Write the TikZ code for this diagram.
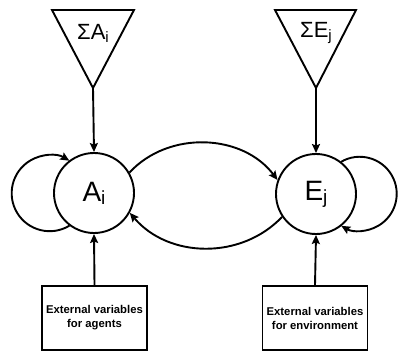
\documentclass[tikz,border=0pt]{standalone}
\usepackage{fontspec}
\setmainfont{Liberation Sans}
\usetikzlibrary{arrows.meta}
\begin{document}
\begin{tikzpicture}[x=1pt,y=1pt,
  conn/.style={line width=1.9pt,-{Stealth[length=9pt,width=8pt,inset=1.5pt]}},
  plain/.style={line width=1.9pt},
  var/.style={draw,line width=1.9pt,circle,minimum size=80pt,inner sep=0pt},
  extbox/.style={draw,line width=1.9pt,minimum width=105pt,minimum height=64pt,inner sep=0pt,align=center,font=\fontsize{11.3}{14}\selectfont\bfseries}]
\useasboundingbox (0,0) rectangle (398,351);
% triangles
\coordinate (tAl) at (52,341);
\coordinate (tAr) at (134,341);
\coordinate (tAa) at (93,263);
\coordinate (tEl) at (275,341);
\coordinate (tEr) at (356,341);
\coordinate (tEa) at (316,263);
\draw[plain,line join=miter] (tAl) -- (tAr) -- (tAa) -- cycle;
\draw[plain,line join=miter] (tEl) -- (tEr) -- (tEa) -- cycle;
\node (sA) at (93,318) {\fontsize{22}{22}\selectfont ΣA\raisebox{-3pt}{\fontsize{15}{15}\selectfont i}};
\node (sE) at (316,318) {\fontsize{22}{22}\selectfont ΣE\raisebox{-3pt}{\fontsize{15}{15}\selectfont j}};
% circles
\node[var] (A) at (94,158) {\fontsize{28}{28}\selectfont A\raisebox{-3pt}{\fontsize{19}{19}\selectfont i}};
\node[var] (E) at (316,157) {\fontsize{28}{28}\selectfont E\raisebox{-3pt}{\fontsize{19}{19}\selectfont j}};
% boxes
\node[extbox] (bA) at (94.5,33) {External variables\\for agents};
\node[extbox] (bE) at (315,33) {External variables\\for environment};
% vertical arrows
\draw[conn] (tAa) -- (A.north);
\draw[conn] (tEa) -- (E.north);
\draw[conn] (bA.north) -- (A.south);
\draw[conn] (bE.north) -- (E.south);
% interaction arcs
\draw[conn] (A.30) to[bend left=50] (E.160);
\draw[conn] (E.214) to[bend left=48] (A.-29);
% self loops
\draw[conn] (A.233.5) arc[start angle=-58.8,end angle=-301.2,radius=38];
\draw[conn] (E.52.3) arc[start angle=120,end angle=-120,radius=37];
\end{tikzpicture}
\end{document}
